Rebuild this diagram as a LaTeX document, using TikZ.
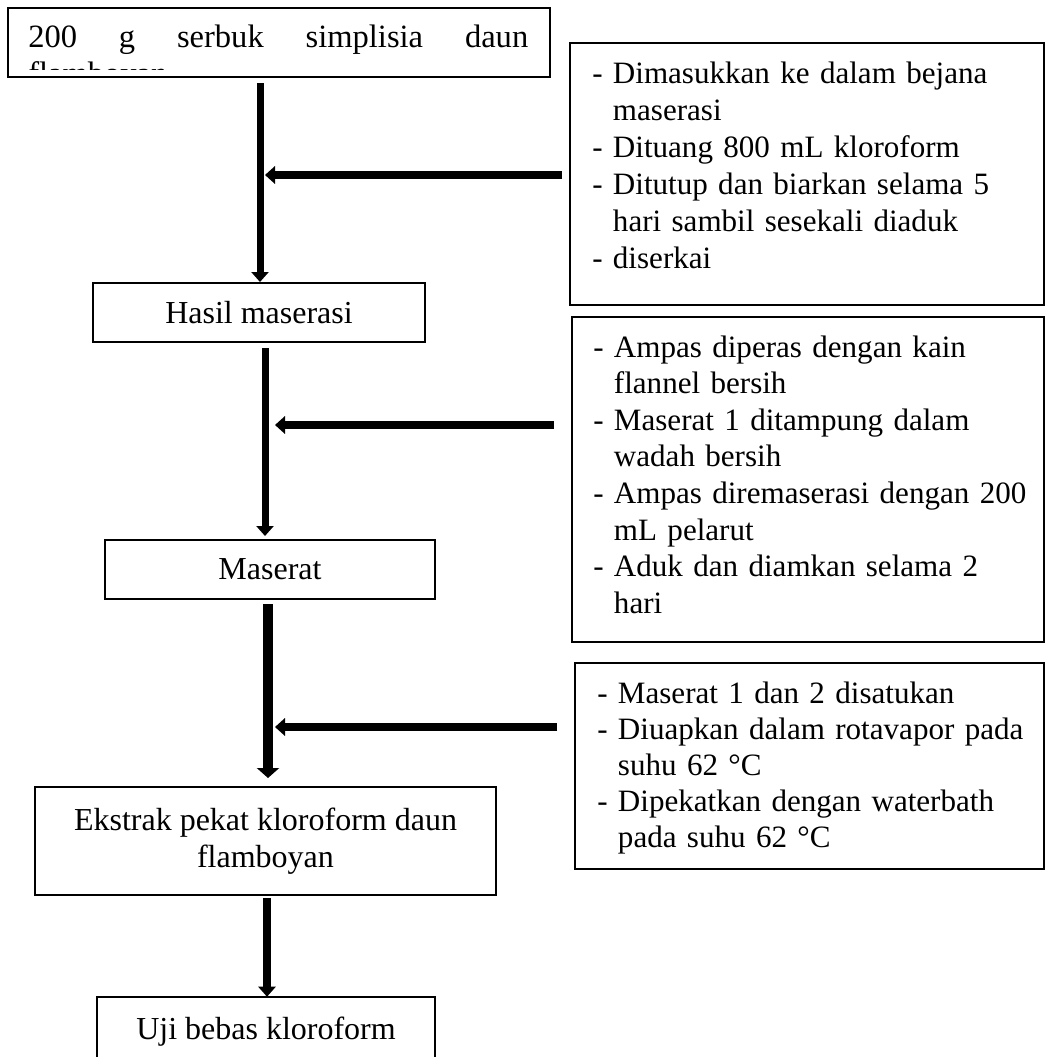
\documentclass[tikz,border=0pt]{standalone}
\usepackage{fontspec}
\setmainfont{Liberation Serif}
\usetikzlibrary{arrows.meta}
\begin{document}
\begin{tikzpicture}[x=0.75pt,y=-0.75pt,
  boxline/.style={draw, line width=1.5pt},
  box/.style={boxline, inner sep=0pt, font=\fontsize{24}{27.75}\selectfont},
  txt/.style={inner sep=0pt, font=\fontsize{23.3}{27.75}\selectfont, align=left, text width=360pt, anchor=base west},
  varr/.style={line width=5.25pt, -{Triangle[length=7.5pt,width=12.75pt]}},
  varrthick/.style={line width=8pt, -{Triangle[length=7.5pt,width=16.5pt]}},
  harr/.style={line width=6pt, -{Triangle[length=7.5pt,width=13pt]}}
]
\useasboundingbox (0,0) rectangle (1046,1057);
\fill[white] (0,0) rectangle (1046,1057);

% top box with clipped text
\begin{scope}
  \clip (8,8) rectangle (550,69);
  \node[inner sep=0pt, anchor=base west, font=\fontsize{24.4}{27.75}\selectfont] (toptext) at (28,47)
    {\hbox to 375pt{200\hfill g\hfill serbuk\hfill simplisia\hfill daun}};
  \node[inner sep=0pt, anchor=base west, font=\fontsize{24.4}{27.75}\selectfont] (toptext2) at (28,84) {flamboyan};
\end{scope}
\node[box, minimum width=406pt, minimum height=51.75pt] (top) at (279,42.5) {};

% main boxes
\node[box, minimum width=249pt, minimum height=44.25pt] (hasil) at (259,312.5) {Hasil maserasi};
\node[box, minimum width=247.5pt, minimum height=44.25pt] (maserat) at (270,569.5) {Maserat};
\node[box, minimum width=345.75pt, minimum height=81pt, align=center] (ekstrak) at (265.5,841) {Ekstrak pekat kloroform daun\\flamboyan};
\node[inner sep=0pt, minimum width=253.5pt, minimum height=60pt] (uji) at (266,1037) {};
\draw[boxline] (uji.south west) -- (uji.north west) -- (uji.north east) -- (uji.south east);
\node[inner sep=0pt, anchor=base, font=\fontsize{24}{27.75}\selectfont] (ujitext) at (266,1039) {Uji bebas kloroform};

% right boxes
\node[box, minimum width=355.5pt, minimum height=196.5pt] (box1) at (807,174) {};
\node[box, minimum width=354pt, minimum height=243.75pt] (box2) at (808,479.5) {};
\node[box, minimum width=351.75pt, minimum height=154.5pt] (box3) at (809.5,766) {};

\node[txt] (t1) at (592,83) {- Dimasukkan ke dalam bejana\\\hphantom{- }maserasi\\- Dituang 800 mL kloroform\\- Ditutup dan biarkan selama 5\\\hphantom{- }hari sambil sesekali diaduk\\- diserkai};
\node[txt, font=\fontsize{23.3}{27.45}\selectfont] (t2) at (593,357) {- Ampas diperas dengan kain\\\hphantom{- }flannel bersih\\- Maserat 1 ditampung dalam\\\hphantom{- }wadah bersih\\- Ampas diremaserasi dengan 200\\\hphantom{- }mL pelarut\\- Aduk dan diamkan selama 2\\\hphantom{- }hari};
\node[txt, font=\fontsize{23.3}{27}\selectfont] (t3) at (597,703) {- Maserat 1 dan 2 disatukan\\- Diuapkan dalam rotavapor pada\\\hphantom{- }suhu 62 °C\\- Dipekatkan dengan waterbath\\\hphantom{- }pada suhu 62 °C};

% vertical arrows
\coordinate (a1s) at (260,83);
\coordinate (a2s) at (265,348);
\coordinate (a3s) at (268,604);
\coordinate (a4s) at (267,898);
\draw[varr] (a1s) -- (a1s |- hasil.north);
\draw[varr, shorten >=2.25pt] (a2s) -- (a2s |- maserat.north);
\draw[varrthick, shorten >=6pt] (a3s) -- (a3s |- ekstrak.north);
\draw[varr, line width=6pt] (a4s) -- (a4s |- uji.north);

% horizontal arrows
\coordinate (j1) at (265,175);
\coordinate (j2) at (275,425);
\coordinate (j3) at (275,727);
\draw[harr, shorten <=5.25pt] (box1.west |- j1) -- (j1);
\draw[harr, shorten <=12.75pt] (box2.west |- j2) -- (j2);
\draw[harr, shorten <=12.75pt] (box3.west |- j3) -- (j3);
\end{tikzpicture}
\end{document}
